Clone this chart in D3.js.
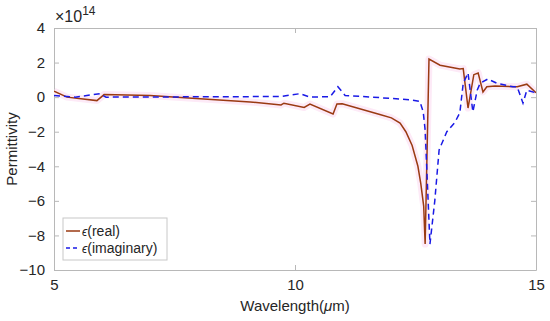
<!DOCTYPE html>
<html>
<head>
<script src="https://d3js.org/d3.v7.min.js"></script>
<style>
  body { margin: 0; background: #fff; }
  svg { font-family: "Liberation Sans", Arial, sans-serif; }
</style>
</head>
<body>
<div id="chart"></div>
<script>
// wavelength (um) / permittivity (x1e14)
const realX = [5.0, 5.27, 5.89, 6.04, 6.99, 8.03, 9.07, 9.71, 9.77, 10.19, 10.31, 10.79, 10.87, 10.98,
  11.76, 12.0, 12.18, 12.30, 12.43, 12.55, 12.61, 12.67, 12.70, 12.78, 13.01, 13.42, 13.49, 13.59, 13.71,
  13.80, 13.90, 13.98, 14.15, 14.61, 14.81, 15.0];
const realY = [0.35, 0.0, -0.2, 0.15, 0.1, -0.1, -0.28, -0.45, -0.35, -0.6, -0.4, -0.97, -0.4, -0.38,
  -1.0, -1.2, -1.5, -2.0, -2.8, -4.0, -5.0, -6.3, -8.5, 2.2, 1.85, 1.63, 1.65, -0.63, 1.3,
  1.4, 0.3, 0.6, 0.65, 0.6, 0.75, 0.25];
const imagX = [5.0, 5.44, 5.95, 6.08, 9.07, 9.69, 10.10, 10.31, 10.73, 10.89, 11.04, 11.76, 12.39,
  12.59, 12.66, 12.70, 12.80, 12.90, 12.99, 13.15, 13.32, 13.42, 13.49, 13.59, 13.69, 13.78, 13.84,
  14.0, 14.19, 14.52, 14.61, 14.73, 14.81, 15.0];
const imagY = [0.1, 0.0, 0.2, 0.0, 0.03, 0.03, 0.2, 0.0, 0.03, 0.6, 0.1, -0.03, -0.15,
  -0.25, -0.85, -1.9, -8.5, -6.0, -3.05, -2.0, -1.45, -0.9, 0.8, 1.4, -0.85, 0.4, 0.8,
  1.05, 0.8, 0.6, 0.6, -0.35, 0.4, 0.25];
const xTicks = [5, 10, 15];
const yTicks = [4, 2, 0, -2, -4, -6, -8, -10];

const W = 550, H = 321;
const margin = { top: 28, right: 14, bottom: 51, left: 54 };
const width = W - margin.left - margin.right,
      height = H - margin.top - margin.bottom;

const svg = d3.select("#chart").append("svg")
    .attr("width", W).attr("height", H);
const g = svg.append("g")
    .attr("transform", `translate(${margin.left},${margin.top})`);

const x = d3.scaleLinear().domain([5, 15]).range([0, width]);
const y = d3.scaleLinear().domain([-10, 4]).range([height, 0]);

const axisColor = "#b8b8b8", textColor = "#262626";

// axes (MATLAB style, ticks inside, box)
function styleAxis(sel) {
  sel.select(".domain").attr("stroke", axisColor);
  sel.selectAll(".tick line").attr("stroke", axisColor);
  sel.selectAll(".tick text").attr("fill", textColor).style("font-size", "15px");
}
g.append("g").attr("transform", `translate(0,${height})`)
  .call(d3.axisBottom(x).tickValues(xTicks).tickSizeInner(-5).tickSizeOuter(0).tickPadding(9))
  .call(styleAxis);
g.append("g")
  .call(d3.axisTop(x).tickValues(xTicks).tickSizeInner(-5).tickSizeOuter(0).tickFormat(""))
  .call(styleAxis);
g.append("g")
  .call(d3.axisLeft(y).tickValues(yTicks).tickSizeInner(-5).tickSizeOuter(0).tickPadding(9))
  .call(styleAxis);
g.append("g").attr("transform", `translate(${width},0)`)
  .call(d3.axisRight(y).tickValues(yTicks).tickSizeInner(-5).tickSizeOuter(0).tickFormat(""))
  .call(styleAxis);

// exponent label
const ex = g.append("text").attr("x", 1).attr("y", -6).attr("fill", textColor).style("font-size", "16px");
ex.append("tspan").text("×10");
ex.append("tspan").attr("dy", -7).style("font-size", "12px").text("14");

// axis titles
g.append("text")
  .attr("x", width / 2).attr("y", height + 41)
  .attr("text-anchor", "middle").attr("fill", textColor).style("font-size", "15px")
  .html('Wavelength(<tspan font-style="italic">μ</tspan>m)');
g.append("text")
  .attr("transform", `translate(-37,${height / 2}) rotate(-90)`)
  .attr("text-anchor", "middle").attr("fill", textColor).style("font-size", "15px")
  .text("Permittivity");

g.append("clipPath").attr("id", "clip")
  .append("rect").attr("width", width).attr("height", height);

const lineGen = d3.line().x(d => x(d[0])).y(d => y(d[1]));
const realData = d3.zip(realX, realY);
const imagData = d3.zip(imagX, imagY);

const plot = g.append("g").attr("clip-path", "url(#clip)");
// faint pink halo seen around the curves
plot.append("path").datum(realData)
  .attr("d", lineGen).attr("fill", "none")
  .attr("stroke", "#fdeaf7").attr("stroke-width", 7).attr("stroke-linejoin", "round");
plot.append("path").datum(realData)
  .attr("d", lineGen).attr("fill", "none")
  .attr("stroke", "#9a3a12").attr("stroke-width", 1.5);
plot.append("path").datum(imagData)
  .attr("d", lineGen).attr("fill", "none")
  .attr("stroke", "#1a1ae6").attr("stroke-width", 1.5).attr("stroke-dasharray", "6,4");

// legend
const lg = g.append("g").attr("transform", "translate(9,190)");
lg.append("rect").attr("width", 104).attr("height", 42)
  .attr("fill", "#fff").attr("stroke", "#c8c8c8");
const items = [
  { name: "real", color: "#9a3a12", dash: null },
  { name: "imaginary", color: "#1a1ae6", dash: "4,3" }
];
items.forEach((d, i) => {
  const yy = 13 + i * 17;
  lg.append("line").attr("x1", 3).attr("x2", 17).attr("y1", yy).attr("y2", yy)
    .attr("stroke", d.color).attr("stroke-width", 1.5).attr("stroke-dasharray", d.dash);
  lg.append("text").attr("x", 19).attr("y", yy + 5).attr("fill", textColor)
    .style("font-size", "14px")
    .html(`<tspan font-style="italic" font-size="12px">ϵ</tspan>(${d.name})`);
});
</script>
</body>
</html>
